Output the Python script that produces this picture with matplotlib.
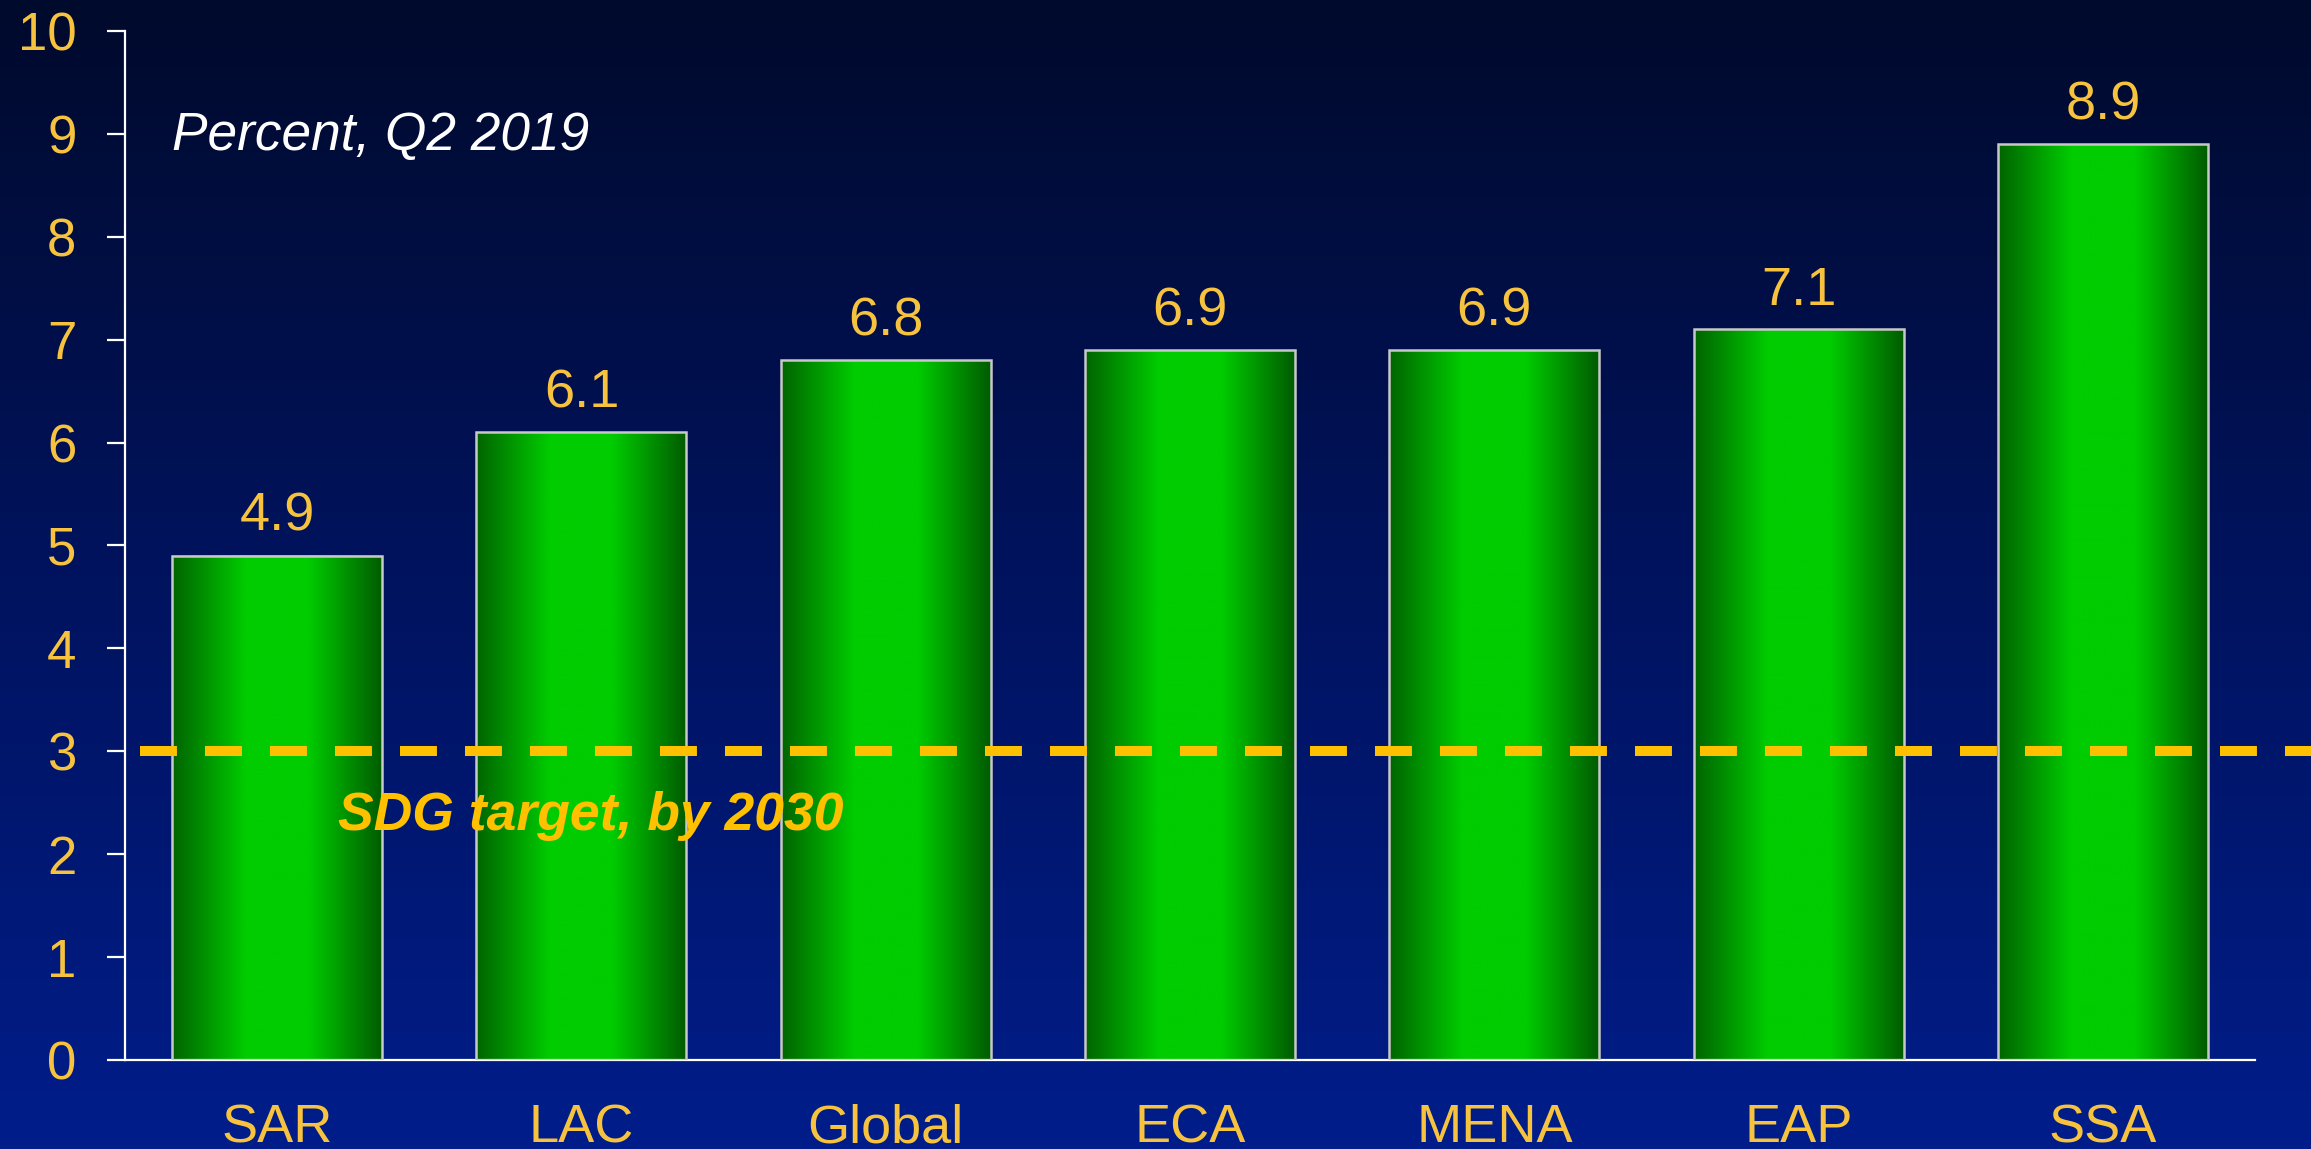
import numpy as np
import matplotlib
matplotlib.use('Agg')
import matplotlib.pyplot as plt
from matplotlib.colors import LinearSegmentedColormap

plt.rcParams['font.family'] = ['Liberation Sans', 'DejaVu Sans']
plt.rcParams['lines.scale_dashes'] = False

regions = ['SAR', 'LAC', 'Global', 'ECA', 'MENA', 'EAP', 'SSA']
values = [4.9, 6.1, 6.8, 6.9, 6.9, 7.1, 8.9]
target = 3
yticks = [0, 1, 2, 3, 4, 5, 6, 7, 8, 9, 10]

txt_yellow = '#F7C33E'
line_yellow = '#FFC000'

fig = plt.figure(figsize=(23.11, 11.49), dpi=100)

# background vertical gradient
bg = fig.add_axes([0, 0, 1, 1], zorder=-1)
bg_cmap = LinearSegmentedColormap.from_list('bg', ['#001D8A', '#00135E', '#000A2C'])
bg.imshow(np.linspace(0, 1, 256).reshape(-1, 1), aspect='auto', cmap=bg_cmap,
          extent=[0, 1, 0, 1], origin='lower')
bg.axis('off')

ax = fig.add_axes([0.0541, 0.0775, 0.9217, 0.8955])
ax.patch.set_alpha(0)

x = np.arange(len(regions))
bars = ax.bar(x, values, width=0.69, facecolor='none', edgecolor='#C8C8C8',
              linewidth=1.8, zorder=3)

# horizontal gradient inside each bar
bar_cmap = LinearSegmentedColormap.from_list(
    'bar', [(0, '#006400'), (0.35, '#00CC00'), (0.65, '#00CC00'), (1, '#005C00')])
grad = np.linspace(0, 1, 256).reshape(1, -1)
for b in bars:
    x0, w, h = b.get_x(), b.get_width(), b.get_height()
    ax.imshow(grad, aspect='auto', cmap=bar_cmap, extent=[x0, x0 + w, 0, h],
              zorder=2, interpolation='bilinear')

for xi, v in zip(x, values):
    ax.annotate(f'{v:.1f}', (xi, v), xytext=(0, 28), textcoords='offset points',
                ha='center', va='center', color=txt_yellow, fontsize=39)

ax.set_xlim(-0.5, 6.5)
ax.set_ylim(0, 10)
ax.set_yticks(yticks)
ax.set_xticks(x)
ax.set_xticklabels(regions)

for s in ['top', 'right']:
    ax.spines[s].set_visible(False)
for s in ['left', 'bottom']:
    ax.spines[s].set_color('white')
    ax.spines[s].set_linewidth(1.6)
ax.tick_params(axis='y', colors='white', labelcolor=txt_yellow, labelsize=38,
               length=13, width=1.6, pad=22)
ax.tick_params(axis='x', length=0, labelcolor=txt_yellow, labelsize=39, pad=31)

# SDG target line, from the axis to the right edge of the figure
ax.axhline(target, xmin=0.007, xmax=1.03, color=line_yellow, linewidth=7.2,
           dashes=(26.6, 20.2), clip_on=False, zorder=4)

ax.text(0.2, 2.37, 'SDG target, by 2030', color=line_yellow, fontsize=38.5,
        fontweight='bold', fontstyle='italic', va='center', ha='left', zorder=5)
ax.text(-0.345, 8.98, 'Percent, Q2 2019', color='white', fontsize=38.3,
        fontstyle='italic', va='center', ha='left')

fig.savefig('out.png', dpi=100)
